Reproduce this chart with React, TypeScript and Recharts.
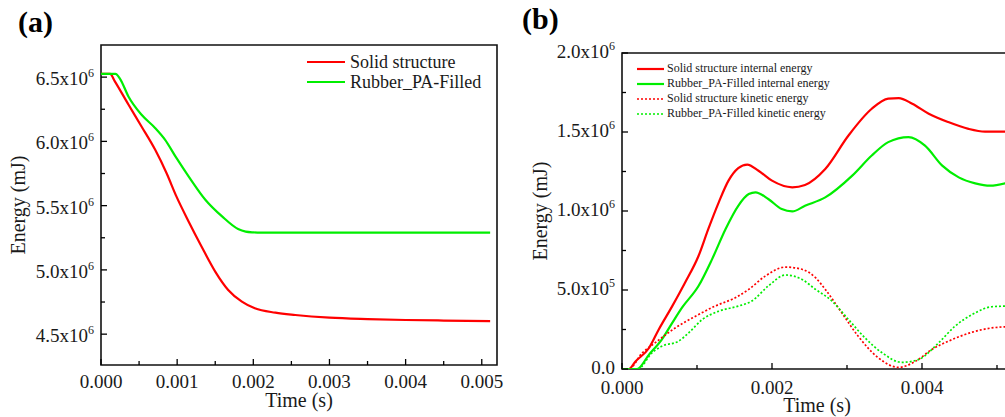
import { LineChart, Line, XAxis, YAxis, ReferenceArea, Legend } from 'recharts'

const SERIF = '"Liberation Serif", "Times New Roman", Times, serif'
const RED = '#ff0000'
const GREEN = '#00ee00'
const INK = '#1a1a1a'
const TICK_GAP = 6

// ---- panel (a): total energy ----
const solidTimeA = [0, 0.00012, 0.00018, 0.00036, 0.00053, 0.00071, 0.00086, 0.00099, 0.00115, 0.00132, 0.0015, 0.00167, 0.00185, 0.00202, 0.00229, 0.00255, 0.003, 0.0035, 0.004, 0.0045, 0.00511]
const solidEnergyA = [6.526e6, 6.526e6, 6.469e6, 6.287e6, 6.118e6, 5.936e6, 5.754e6, 5.572e6, 5.377e6, 5.182e6, 4.987e6, 4.844e6, 4.753e6, 4.701e6, 4.667e6, 4.649e6, 4.628e6, 4.617e6, 4.61e6, 4.606e6, 4.602e6]
const rubberTimeA = [0, 0.00019, 0.00025, 0.00036, 0.00053, 0.00071, 0.00084, 0.00099, 0.00115, 0.00137, 0.00159, 0.0018, 0.0019, 0.002, 0.0021, 0.0025, 0.003, 0.004, 0.00511]
const rubberEnergyA = [6.526e6, 6.526e6, 6.487e6, 6.35e6, 6.209e6, 6.105e6, 6.014e6, 5.871e6, 5.728e6, 5.546e6, 5.416e6, 5.318e6, 5.298e6, 5.292e6, 5.29e6, 5.29e6, 5.29e6, 5.29e6, 5.29e6]

const xTicksA = [0, 0.0005, 0.001, 0.0015, 0.002, 0.0025, 0.003, 0.0035, 0.004, 0.0045, 0.005]
const xLabelsA = [0, 0.001, 0.002, 0.003, 0.004, 0.005]
const yTicksA = [4.5e6, 4.75e6, 5.0e6, 5.25e6, 5.5e6, 5.75e6, 6.0e6, 6.25e6, 6.5e6]
const yLabelsA = [4.5e6, 5.0e6, 5.5e6, 6.0e6, 6.5e6]

// ---- panel (b): internal / kinetic energy ----
const solidIntTime = [0, 0.00009, 0.00018, 0.00036, 0.00049, 0.00067, 0.00084, 0.00102, 0.00115, 0.00129, 0.00142, 0.00155, 0.00167, 0.00182, 0.002, 0.00227, 0.00244, 0.00271, 0.00302, 0.00333, 0.00355, 0.00369, 0.00387, 0.00409, 0.00435, 0.00462, 0.00484, 0.00511]
const solidIntEnergy = [0, 0, 0.048e6, 0.133e6, 0.25e6, 0.398e6, 0.546e6, 0.715e6, 0.885e6, 1.055e6, 1.192e6, 1.271e6, 1.294e6, 1.255e6, 1.192e6, 1.15e6, 1.165e6, 1.266e6, 1.478e6, 1.647e6, 1.711e6, 1.715e6, 1.679e6, 1.616e6, 1.563e6, 1.52e6, 1.503e6, 1.503e6]
const rubberIntTime = [0, 0.0002, 0.00036, 0.00053, 0.00067, 0.0008, 0.00102, 0.0012, 0.00138, 0.00155, 0.00169, 0.00178, 0.00195, 0.00213, 0.00227, 0.00244, 0.00271, 0.00307, 0.00333, 0.00355, 0.00382, 0.00404, 0.00427, 0.00449, 0.00471, 0.00491, 0.00511]
const rubberIntEnergy = [0, 0, 0.091e6, 0.186e6, 0.292e6, 0.388e6, 0.525e6, 0.694e6, 0.885e6, 1.033e6, 1.107e6, 1.118e6, 1.076e6, 1.012e6, 0.997e6, 1.033e6, 1.086e6, 1.224e6, 1.351e6, 1.436e6, 1.468e6, 1.414e6, 1.287e6, 1.213e6, 1.175e6, 1.16e6, 1.175e6]
const solidKinTime = [0, 0.00009, 0.00027, 0.00044, 0.00071, 0.00098, 0.00124, 0.00151, 0.00169, 0.00191, 0.00218, 0.0024, 0.00258, 0.00271, 0.00293, 0.00315, 0.00342, 0.00369, 0.00391, 0.00413, 0.0044, 0.00467, 0.00493, 0.00511]
const solidKinEnergy = [0, 0, 0.102e6, 0.165e6, 0.26e6, 0.334e6, 0.398e6, 0.451e6, 0.504e6, 0.588e6, 0.645e6, 0.631e6, 0.578e6, 0.504e6, 0.356e6, 0.207e6, 0.07e6, 0.01e6, 0.048e6, 0.123e6, 0.186e6, 0.233e6, 0.26e6, 0.267e6]
const rubberKinTime = [0, 0.00021, 0.0004, 0.00053, 0.00075, 0.00089, 0.00107, 0.00129, 0.00155, 0.00173, 0.00195, 0.00218, 0.0024, 0.00258, 0.0028, 0.00302, 0.00324, 0.00347, 0.00373, 0.00395, 0.00422, 0.00444, 0.00467, 0.00493, 0.00511]
const rubberKinEnergy = [0, 0, 0.102e6, 0.144e6, 0.175e6, 0.229e6, 0.313e6, 0.366e6, 0.398e6, 0.43e6, 0.525e6, 0.595e6, 0.567e6, 0.504e6, 0.43e6, 0.313e6, 0.197e6, 0.102e6, 0.042e6, 0.059e6, 0.165e6, 0.271e6, 0.345e6, 0.394e6, 0.398e6]

const xTicksB = [0, 0.001, 0.002, 0.003, 0.004, 0.005]
const xLabelsB = [0, 0.002, 0.004]
const yTicksB = [0, 2.5e5, 5e5, 7.5e5, 1e6, 1.25e6, 1.5e6, 1.75e6, 2e6]
const yLabelsB = [0, 5e5, 1e6, 1.5e6, 2e6]

type Pt = { t: number; e: number }
type Series = { name: string; data: Pt[]; color: string; dotted: boolean }

const zip = (t: number[], e: number[]): Pt[] => t.map((v, i) => ({ t: v, e: e[i] }))

const seriesA: Series[] = [
  { name: 'Solid structure', data: zip(solidTimeA, solidEnergyA), color: RED, dotted: false },
  { name: 'Rubber_PA-Filled', data: zip(rubberTimeA, rubberEnergyA), color: GREEN, dotted: false },
]

const seriesB: Series[] = [
  { name: 'Solid structure internal energy', data: zip(solidIntTime, solidIntEnergy), color: RED, dotted: false },
  { name: 'Rubber_PA-Filled internal energy', data: zip(rubberIntTime, rubberIntEnergy), color: GREEN, dotted: false },
  { name: 'Solid structure kinetic energy', data: zip(solidKinTime, solidKinEnergy), color: RED, dotted: true },
  { name: 'Rubber_PA-Filled kinetic energy', data: zip(rubberKinTime, rubberKinEnergy), color: GREEN, dotted: true },
]

function sciParts(v: number): [string, string | null] {
  if (v === 0) return ['0.0', null]
  const exp = Math.floor(Math.log10(v) + 1e-9)
  return [(v / Math.pow(10, exp)).toFixed(1) + 'x10', String(exp)]
}

const makeYTick = (labeled: number[], dy: number) => (props: any) => {
  const { x, y, payload } = props
  const major = labeled.includes(payload.value)
  const ax = x + TICK_GAP
  const [base, exp] = sciParts(payload.value)
  return (
    <g>
      <line x1={ax} x2={ax + (major ? 6 : 4)} y1={y} y2={y} stroke="#000" strokeWidth={1.3} />
      {major && (
        <text x={x - 1} y={y + dy} textAnchor="end" fontFamily={SERIF} fontSize={19} fill={INK}>
          {base}
          {exp && (
            <tspan dy={-8} fontSize={12}>
              {exp}
            </tspan>
          )}
        </text>
      )}
    </g>
  )
}

const makeXTick = (labeled: number[], dy: number) => (props: any) => {
  const { x, y, payload } = props
  const major = labeled.includes(payload.value)
  const ay = y - TICK_GAP
  return (
    <g>
      <line x1={x} x2={x} y1={ay} y2={ay - (major ? 6 : 4)} stroke="#000" strokeWidth={1.3} />
      {major && (
        <text x={x} y={y + dy} textAnchor="middle" fontFamily={SERIF} fontSize={19} fill={INK}>
          {payload.value.toFixed(3)}
        </text>
      )}
    </g>
  )
}

const energyTitle = (baseX: number) => (props: any) => {
  const vb = props.viewBox
  const cy = vb.y + vb.height / 2
  return (
    <text x={baseX} y={cy} transform={`rotate(-90 ${baseX} ${cy})`} textAnchor="middle" fontFamily={SERIF} fontSize={20} fill={INK}>
      Energy (mJ)
    </text>
  )
}

function LegendBox({ items, fontSize, rowH, lineW, gap }: { items: Series[]; fontSize: number; rowH: number; lineW: number; gap: number }) {
  return (
    <div style={{ fontFamily: SERIF, fontSize, color: INK }}>
      {items.map((it) => (
        <div key={it.name} style={{ display: 'flex', alignItems: 'center', height: rowH, lineHeight: `${rowH}px` }}>
          <svg width={lineW} height={4} style={{ display: 'block' }}>
            <line x1={0} x2={lineW} y1={2} y2={2} stroke={it.color} strokeWidth={it.dotted ? 1.6 : 2.2} strokeDasharray={it.dotted ? '2 2' : undefined} />
          </svg>
          <span style={{ marginLeft: gap, whiteSpace: 'nowrap' }}>{it.name}</span>
        </div>
      ))}
    </div>
  )
}

function Panel(props: {
  series: Series[]
  width: number
  margin: { top: number; right: number; bottom: number; left: number }
  yWidth: number
  xHeight: number
  xDomain: [number, number]
  yDomain: [number, number]
  xTicks: number[]
  xLabels: number[]
  yTicks: number[]
  yLabels: number[]
  yLabelDy: number
  xLabelDy: number
  yTitleX: number
  xTitleOffset: number
  legend: { top: number; left: number; fontSize: number; rowH: number; lineW: number; gap: number }
}) {
  const p = props
  return (
    <LineChart width={p.width} height={417} margin={p.margin}>
      <XAxis
        dataKey="t"
        type="number"
        domain={p.xDomain}
        allowDataOverflow
        ticks={p.xTicks}
        interval={0}
        height={p.xHeight}
        axisLine={false}
        tickLine={false}
        tickSize={0}
        tickMargin={TICK_GAP}
        tick={makeXTick(p.xLabels, p.xLabelDy)}
        label={{ value: 'Time (s)', position: 'insideBottom', offset: p.xTitleOffset, fontFamily: SERIF, fontSize: 20, fill: INK }}
      />
      <YAxis
        type="number"
        domain={p.yDomain}
        allowDataOverflow
        ticks={p.yTicks}
        interval={0}
        width={p.yWidth}
        axisLine={false}
        tickLine={false}
        tickSize={0}
        tickMargin={TICK_GAP}
        tick={makeYTick(p.yLabels, p.yLabelDy)}
        label={{ content: energyTitle(p.yTitleX) }}
      />
      <ReferenceArea
        x1={p.xDomain[0]}
        x2={p.xDomain[1]}
        y1={p.yDomain[0]}
        y2={p.yDomain[1]}
        ifOverflow="visible"
        fill="none"
        fillOpacity={0}
        stroke="#111"
        strokeWidth={1.6}
      />
      {p.series.map((s) => (
        <Line
          key={s.name}
          name={s.name}
          data={s.data}
          dataKey="e"
          type="monotone"
          stroke={s.color}
          strokeWidth={s.dotted ? 1.7 : 2.2}
          strokeDasharray={s.dotted ? '2 2' : undefined}
          dot={false}
          activeDot={false}
          isAnimationActive={false}
        />
      ))}
      <Legend
        layout="vertical"
        align="center"
        verticalAlign="middle"
        wrapperStyle={{ top: p.legend.top, left: p.legend.left, width: 'auto' }}
        content={() => (
          <LegendBox items={p.series} fontSize={p.legend.fontSize} rowH={p.legend.rowH} lineW={p.legend.lineW} gap={p.legend.gap} />
        )}
      />
    </LineChart>
  )
}

const titleStyle = {
  position: 'absolute' as const,
  fontFamily: SERIF,
  fontWeight: 700,
  fontSize: 30,
  lineHeight: '30px',
  color: '#000',
}

export default function App() {
  return (
    <div style={{ position: 'absolute', left: 0, top: 0, width: 1005, height: 417, overflow: 'hidden', background: '#fff' }}>
      <div style={{ position: 'absolute', left: 0, top: 0 }}>
        <Panel
          series={seriesA}
          width={515}
          margin={{ top: 45, right: 18, bottom: 0, left: 10 }}
          yWidth={91}
          xHeight={52}
          xDomain={[0, 0.0052]}
          yDomain={[4.26e6, 6.75e6]}
          xTicks={xTicksA}
          xLabels={xLabelsA}
          yTicks={yTicksA}
          yLabels={yLabelsA}
          yLabelDy={8}
          xLabelDy={17}
          yTitleX={25}
          xTitleOffset={10}
          legend={{ top: 52, left: 307, fontSize: 18, rowH: 20, lineW: 38, gap: 5 }}
        />
      </div>
      <div style={{ position: 'absolute', left: 510, top: 0 }}>
        <Panel
          series={seriesB}
          width={510}
          margin={{ top: 53, right: 8, bottom: 0, left: 10 }}
          yWidth={102}
          xHeight={48}
          xDomain={[0, 0.0052]}
          yDomain={[0, 2e6]}
          xTicks={xTicksB}
          xLabels={xLabelsB}
          yTicks={yTicksB}
          yLabels={yLabelsB}
          yLabelDy={5}
          xLabelDy={19}
          yTitleX={37}
          xTitleOffset={5}
          legend={{ top: 61, left: 127, fontSize: 12, rowH: 15, lineW: 27, gap: 3 }}
        />
      </div>
      <div style={{ ...titleStyle, left: 18, top: 7 }}>(a)</div>
      <div style={{ ...titleStyle, left: 522, top: 4 }}>(b)</div>
    </div>
  )
}
